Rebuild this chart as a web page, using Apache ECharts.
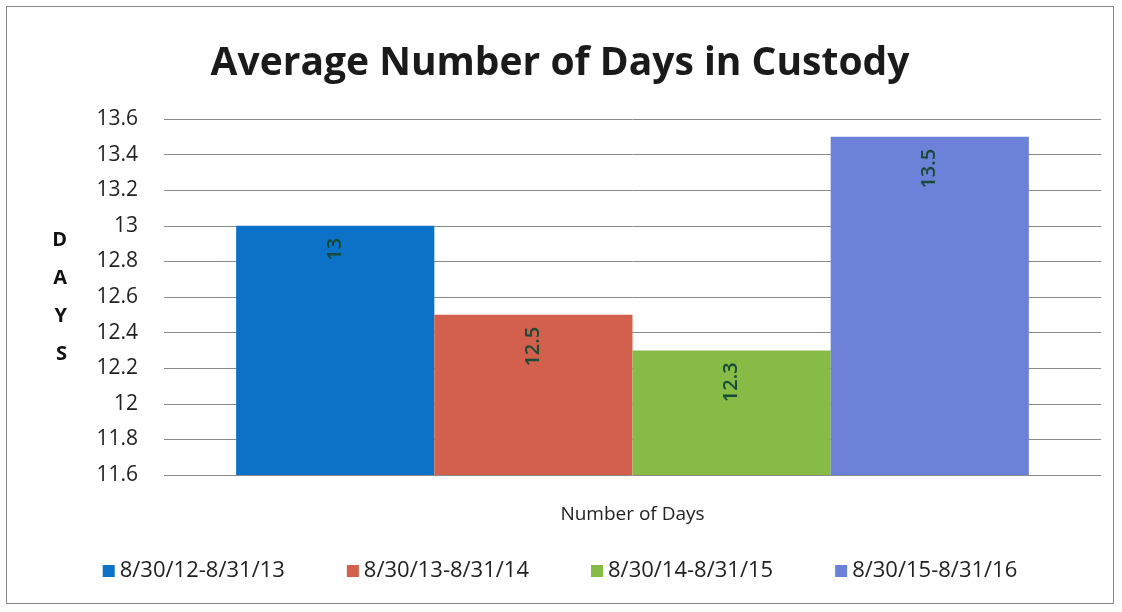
<!DOCTYPE html>
<html>
<head>
<meta charset="utf-8">
<script src="https://cdn.jsdelivr.net/npm/echarts@6/dist/echarts.min.js"></script>
<style>
html,body{margin:0;padding:0;background:#fff;}
#main{position:absolute;left:6px;top:6px;width:1108px;height:598px;border:1px solid #888;box-sizing:border-box;}
</style>
</head>
<body>
<div id="main"></div>
<script>
var categories = ['Number of Days'];
var seriesNames = ['8/30/12-8/31/13', '8/30/13-8/31/14', '8/30/14-8/31/15', '8/30/15-8/31/16'];
var seriesValues = [13, 12.5, 12.3, 13.5];
var seriesColors = ['#0c72c8', '#d2604d', '#86bc45', '#6b82d8'];
var yTicks = { min: 11.6, max: 13.6, interval: 0.2 };

window.onload = function () {
	var myChart = echarts.init(document.getElementById('main'));

	var series = [];
	for (var i = 0; i < seriesNames.length; i++) {
		series.push({
			name: seriesNames[i],
			type: 'bar',
			data: [seriesValues[i]],
			barGap: '0%',
			barCategoryGap: '15.4%',
			itemStyle: { color: seriesColors[i] },
			label: {
				show: true,
				position: 'insideTop',
				rotate: 90,
				align: 'right',
				verticalAlign: 'middle',
				distance: 12,
				color: '#1a4a38',
				fontFamily: 'Open Sans',
				fontWeight: 600,
				fontSize: 20
			}
		});
	}

	var option = {
		title: {
			text: 'Average Number of Days in Custody',
			left: 'center',
			top: 32,
			textStyle: {
				color: '#1a1a1a',
				fontFamily: 'Open Sans',
				fontWeight: 'bold',
				fontSize: 39
			}
		},
		legend: {
			bottom: 16,
			left: 'center',
			itemWidth: 12,
			itemHeight: 12,
			itemGap: 62,
			icon: 'rect',
			textStyle: { color: '#222', fontFamily: 'Open Sans', fontSize: 22 },
			data: seriesNames
		},
		grid: {
			left: 157,
			right: 12,
			top: 112,
			bottom: 128
		},
		xAxis: {
			type: 'category',
			data: categories,
			axisLine: { show: false },
			axisTick: { show: false },
			axisLabel: { color: '#222', fontFamily: 'Open Sans', fontSize: 19, margin: 30 }
		},
		yAxis: {
			type: 'value',
			min: yTicks.min,
			max: yTicks.max,
			interval: yTicks.interval,
			name: 'D\nA\nY\nS',
			nameLocation: 'middle',
			nameRotate: 0,
			nameGap: 97,
			nameTextStyle: { color: '#111', fontFamily: 'Open Sans', fontWeight: 'bold', fontSize: 20, lineHeight: 38 },
			axisLine: { show: false },
			axisTick: { show: false },
			axisLabel: { color: '#222', fontFamily: 'Open Sans', fontSize: 21, margin: 26 },
			splitLine: { lineStyle: { color: '#8a8a8a', width: 1 } }
		},
		series: series
	};

	myChart.setOption(option);
};
</script>
</body>
</html>
